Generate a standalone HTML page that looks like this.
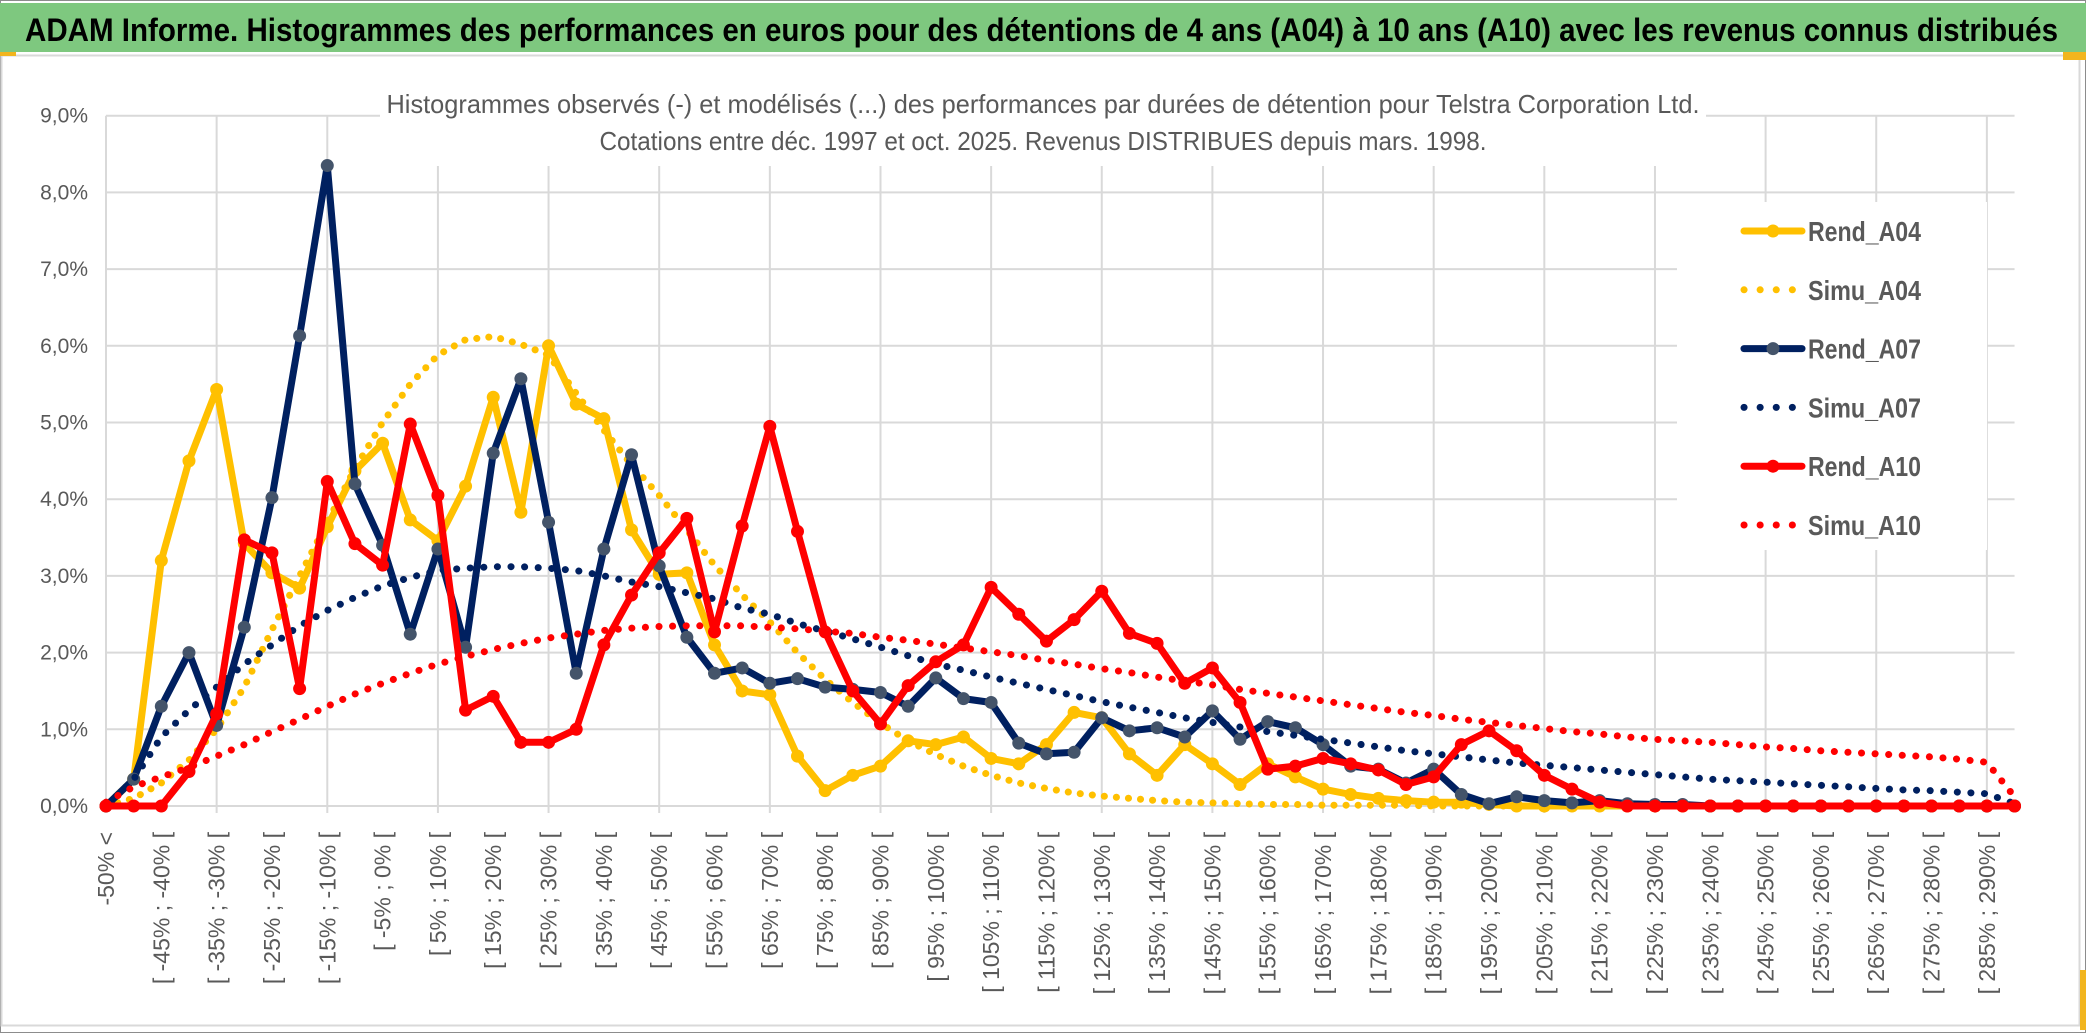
<!DOCTYPE html>
<html><head><meta charset="utf-8"><title>ADAM Informe</title>
<style>
html,body{margin:0;padding:0;background:#fff;}
svg{display:block;}
text{font-family:"Liberation Sans",sans-serif;}
</style></head>
<body>
<svg id="chart" width="2086" height="1033" viewBox="0 0 2086 1033" xmlns="http://www.w3.org/2000/svg">
  <rect x="0" y="0" width="2086" height="1033" fill="#ffffff"/>
  <rect x="0.5" y="0.5" width="2085" height="1032" fill="none" stroke="#8c8c8c" stroke-width="1"/>
  <g>
    <rect x="0" y="3" width="2086" height="49" fill="#7ec87f"/>
    <text x="25" y="41" font-size="32" font-weight="bold" fill="#000" textLength="2033" lengthAdjust="spacingAndGlyphs">ADAM Informe. Histogrammes des performances en euros pour des détentions de 4 ans (A04) à 10 ans (A10) avec les revenus connus distribués</text>
  </g>
  <rect x="1.5" y="55.5" width="2078" height="970" fill="#fff" stroke="#d9d9d9" stroke-width="2"/>
  <rect x="0" y="52" width="16" height="4" fill="#f2b51e"/>
  <rect x="2063" y="52" width="23" height="8" fill="#f2b51e"/>
  <rect x="2080" y="970" width="6" height="60" fill="#f2b51e"/>
  <g id="grid"></g>
  <rect x="380" y="84" width="1326" height="82" fill="#fff"/>
  <text x="1043" y="113" font-size="26" fill="#595959" text-anchor="middle" textLength="1313" lengthAdjust="spacingAndGlyphs">Histogrammes observés (-) et modélisés (...) des performances par durées de détention pour Telstra Corporation Ltd.</text>
  <text x="1043" y="150" font-size="26" fill="#595959" text-anchor="middle" textLength="887" lengthAdjust="spacingAndGlyphs">Cotations entre déc. 1997 et oct. 2025. Revenus DISTRIBUES depuis mars. 1998.</text>
  <g id="yaxis"></g>
  <g id="xaxis"></g>
  <g id="series"></g>
  <g id="legend">
    <rect x="1677" y="202" width="310" height="348" fill="#fff"/>
  </g>
</svg>
<script>
// ---- data ----
const categories = [];
categories.push("-50% <");
for (let k = 1; k < 70; k++) { const a = -50 + 5 * (k - 1); categories.push("[ " + a + "% ; " + (a + 5) + "% ["); }

const rendA04 = [0,0.35,3.2,4.5,5.43,3.42,3.04,2.84,3.64,4.37,4.73,3.73,3.46,4.17,5.33,3.83,6.0,5.24,5.05,3.6,3.02,3.04,2.1,1.5,1.45,0.65,0.2,0.4,0.52,0.85,0.8,0.9,0.62,0.55,0.8,1.22,1.15,0.68,0.4,0.8,0.55,0.28,0.55,0.38,0.22,0.15,0.1,0.07,0.05,0.05,0.02,0,0,0,0,0,0,0,0,0,0,0,0,0,0,0,0,0,0,0];
const simuA04 = [0,0.1,0.3,0.6,1.0,1.55,2.3,3.0,3.7,4.4,5.0,5.5,5.88,6.08,6.12,6.02,5.88,5.38,4.9,4.45,4.05,3.6,3.14,2.75,2.4,2.0,1.65,1.35,1.08,0.85,0.67,0.52,0.4,0.3,0.23,0.17,0.13,0.1,0.07,0.05,0.04,0.03,0.02,0.02,0.01,0.01,0.01,0.01,0,0,0,0,0,0,0,0,0,0,0,0,0,0,0,0,0,0,0,0,0,0];
const rendA07 = [0,0.35,1.3,2.0,1.05,2.33,4.02,6.13,8.35,4.2,3.4,2.24,3.35,2.07,4.6,5.57,3.7,1.73,3.35,4.58,3.13,2.2,1.73,1.8,1.6,1.66,1.55,1.52,1.48,1.3,1.67,1.4,1.35,0.82,0.68,0.7,1.15,0.98,1.02,0.9,1.24,0.87,1.1,1.02,0.8,0.52,0.48,0.3,0.48,0.15,0.03,0.12,0.07,0.04,0.07,0.03,0.02,0.02,0,0,0,0,0,0,0,0,0,0,0,0];
const simuA07 = [0,0.35,0.9,1.25,1.55,1.85,2.1,2.35,2.55,2.72,2.87,2.98,3.07,3.1,3.12,3.12,3.1,3.07,3.0,2.92,2.86,2.78,2.7,2.58,2.5,2.38,2.28,2.18,2.07,1.96,1.85,1.77,1.68,1.6,1.52,1.44,1.36,1.29,1.22,1.15,1.09,1.03,0.97,0.92,0.87,0.82,0.77,0.72,0.68,0.64,0.6,0.56,0.53,0.5,0.47,0.44,0.41,0.38,0.35,0.33,0.31,0.29,0.27,0.25,0.23,0.21,0.2,0.18,0.16,0.03];
const rendA10 = [0,0,0,0.45,1.2,3.47,3.3,1.53,4.23,3.42,3.14,4.98,4.05,1.25,1.43,0.83,0.83,1.0,2.1,2.75,3.3,3.75,2.27,3.65,4.95,3.58,2.27,1.5,1.07,1.57,1.88,2.1,2.85,2.5,2.15,2.43,2.8,2.25,2.12,1.6,1.8,1.35,0.48,0.52,0.62,0.55,0.47,0.28,0.38,0.8,0.98,0.72,0.4,0.22,0.05,0,0,0,0,0,0,0,0,0,0,0,0,0,0,0];
const simuA10 = [0.05,0.25,0.38,0.5,0.65,0.8,0.97,1.13,1.3,1.46,1.6,1.73,1.85,1.95,2.04,2.12,2.19,2.24,2.29,2.32,2.34,2.35,2.35,2.35,2.33,2.31,2.28,2.25,2.2,2.16,2.11,2.06,2.01,1.96,1.9,1.85,1.79,1.74,1.68,1.63,1.58,1.52,1.47,1.42,1.37,1.32,1.27,1.22,1.18,1.13,1.09,1.05,1.01,0.97,0.94,0.9,0.87,0.85,0.83,0.8,0.77,0.75,0.72,0.7,0.68,0.66,0.64,0.61,0.57,0.12];
const yTicks = [0,1,2,3,4,5,6,7,8,9];
const yTickLabels = ["0,0%","1,0%","2,0%","3,0%","4,0%","5,0%","6,0%","7,0%","8,0%","9,0%"];
const seriesNames = ["Rend_A04","Simu_A04","Rend_A07","Simu_A07","Rend_A10","Simu_A10"];

// ---- scales ----
const X0 = 106, STEP = 27.66, Y0 = 806, PER = 76.7;
function xs(i){ return X0 + i * STEP; }
function ys(v){ return Y0 - v * PER; }
const NS = "http://www.w3.org/2000/svg";
function mk(tag, attrs, parent){ const e = document.createElementNS(NS, tag); for (const k in attrs) e.setAttribute(k, attrs[k]); parent.appendChild(e); return e; }

const grid = document.getElementById('grid');
const xRight = xs(categories.length - 1);
yTicks.forEach((t) => {
  const l = mk('line', {x1: X0, x2: xRight, y1: ys(t), y2: ys(t), stroke: '#d9d9d9', 'stroke-width': 2}, grid);
  
  
});
for (let i = 0; i < categories.length; i += 4) {
  const l = mk('line', {x1: xs(i), x2: xs(i), y1: ys(9), y2: Y0 + 7, stroke: '#d9d9d9', 'stroke-width': 2}, grid);
  
  
}

const yaxis = document.getElementById('yaxis');
yTicks.forEach((t, k) => {
  const tx = mk('text', {x: 88, y: ys(t) + 7, 'font-size': 21, fill: '#595959', 'text-anchor': 'end'}, yaxis);
  tx.textContent = yTickLabels[k];
  
  
});

const xaxis = document.getElementById('xaxis');
categories.forEach((c, i) => {
  if (i % 2 !== 0) return;
  const x = xs(i) + 8, y = 832;
  const tx = mk('text', {x: x, y: y, 'font-size': 23, fill: '#595959', 'text-anchor': 'end', transform: 'rotate(-90 ' + x + ' ' + y + ')'}, xaxis);
  tx.textContent = c;
  
  
});

const seriesG = document.getElementById('series');
function pts(arr){ return arr.map((v, i) => xs(i).toFixed(1) + ',' + ys(v).toFixed(1)).join(' '); }
function solid(arr, color, mcolor, name){
  const g = mk('g', {}, seriesG);
  
  
  mk('polyline', {points: pts(arr), fill: 'none', stroke: color, 'stroke-width': 7, 'stroke-linejoin': 'round'}, g);
  arr.forEach((v, i) => {
    const c = mk('circle', {cx: xs(i), cy: ys(v), r: 6.5, fill: mcolor}, g);
    
    
  });
}
function dotted(arr, color, name, gap){
  const p = mk('polyline', {points: pts(arr), fill: 'none', stroke: color, 'stroke-width': 7, 'stroke-linecap': 'round', 'stroke-dasharray': '0.1 ' + gap}, seriesG);
  
  
}
solid(rendA04, '#ffc000', '#ffc000', 'series-rend-a04');
dotted(simuA04, '#ffc000', 'series-simu-a04', 12);
solid(rendA07, '#002060', '#44546a', 'series-rend-a07');
dotted(simuA07, '#002060', 'series-simu-a07', 13.5);
solid(rendA10, '#ff0000', '#ff0000', 'series-rend-a10');
dotted(simuA10, '#ff0000', 'series-simu-a10', 13.5);

const legend = document.getElementById('legend');
const legColors = ['#ffc000','#ffc000','#002060','#002060','#ff0000','#ff0000'];
const legMarker = ['#ffc000',null,'#44546a',null,'#ff0000',null];
seriesNames.forEach((n, k) => {
  const y = 231 + k * 58.8;
  const g = mk('g', {}, legend);
  
  
  if (k % 2 === 0) {
    mk('line', {x1: 1744, x2: 1802, y1: y, y2: y, stroke: legColors[k], 'stroke-width': 7, 'stroke-linecap': 'round'}, g);
    mk('circle', {cx: 1773, cy: y, r: 6.5, fill: legMarker[k]}, g);
  } else {
    mk('line', {x1: 1744, x2: 1802, y1: y, y2: y, stroke: legColors[k], 'stroke-width': 7, 'stroke-linecap': 'round', 'stroke-dasharray': '0.1 16'}, g);
  }
  const t = mk('text', {x: 1808, y: y + 10, 'font-size': 28, fill: '#595959', 'font-weight': 'bold', textLength: 113, lengthAdjust: 'spacingAndGlyphs'}, g);
  t.textContent = n;
});
</script>
</body></html>
